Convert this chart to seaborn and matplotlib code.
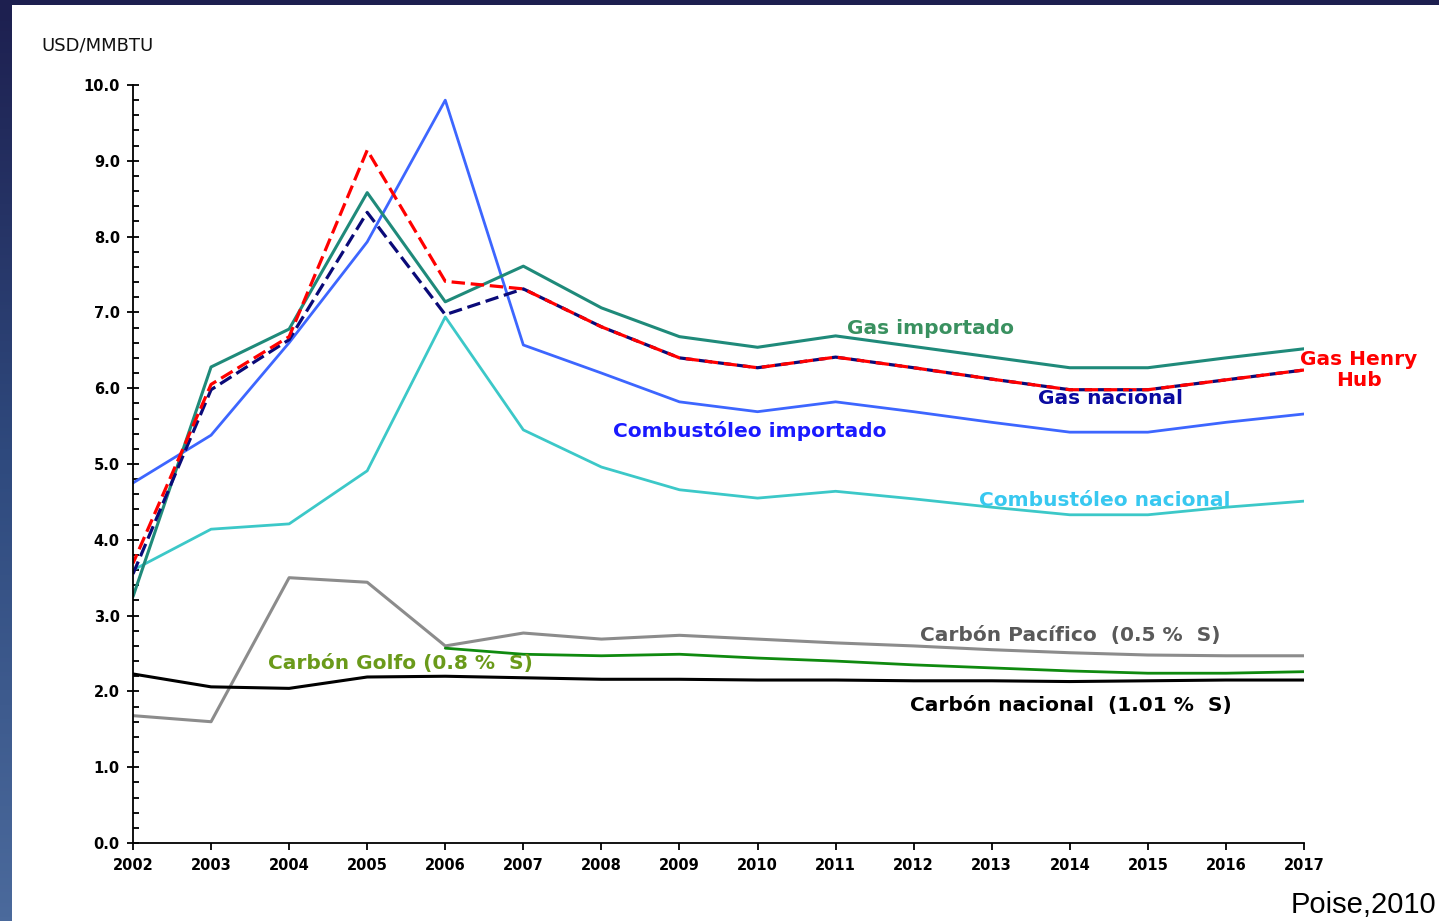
import numpy as np
import pandas as pd
import matplotlib.pyplot as plt
import seaborn as sns
from matplotlib.patches import Rectangle
from matplotlib.ticker import MultipleLocator

# -------------------------------
# Data (USD/MMBTU)
# -------------------------------
years = list(range(2002, 2018))

gas_importado = [3.25, 6.28, 6.78, 8.58, 7.14, 7.61, 7.06, 6.68, 6.54, 6.69,
                 6.55, 6.41, 6.27, 6.27, 6.40, 6.52]
gas_henry_hub = [3.69, 6.05, 6.68, 9.14, 7.41, 7.31, 6.81, 6.40, 6.27, 6.41,
                 6.27, 6.12, 5.98, 5.98, 6.11, 6.24]
gas_nacional = [3.55, 5.98, 6.64, 8.32, 6.97, 7.31, 6.81, 6.40, 6.27, 6.41,
                6.27, 6.12, 5.98, 5.98, 6.11, 6.24]
comb_importado = [4.75, 5.38, 6.60, 7.93, 9.80, 6.57, 6.20, 5.82, 5.69, 5.82,
                  5.69, 5.55, 5.42, 5.42, 5.55, 5.66]
comb_nacional = [3.60, 4.14, 4.21, 4.91, 6.94, 5.45, 4.96, 4.66, 4.55, 4.64,
                 4.54, 4.43, 4.33, 4.33, 4.43, 4.51]
carbon_pacifico = [1.68, 1.60, 3.50, 3.44, 2.60, 2.77, 2.69, 2.74, 2.69, 2.64,
                   2.60, 2.55, 2.51, 2.48, 2.47, 2.47]
carbon_golfo = [np.nan, np.nan, np.nan, np.nan, 2.57, 2.49, 2.47, 2.49, 2.44, 2.40,
                2.35, 2.31, 2.27, 2.24, 2.24, 2.26]
carbon_nacional = [2.23, 2.06, 2.04, 2.19, 2.20, 2.18, 2.16, 2.16, 2.15, 2.15,
                   2.14, 2.14, 2.13, 2.14, 2.15, 2.15]

df = pd.DataFrame({
    "year": years,
    "gas_importado": gas_importado,
    "gas_henry_hub": gas_henry_hub,
    "gas_nacional": gas_nacional,
    "comb_importado": comb_importado,
    "comb_nacional": comb_nacional,
    "carbon_pacifico": carbon_pacifico,
    "carbon_golfo": carbon_golfo,
    "carbon_nacional": carbon_nacional,
})

# -------------------------------
# Figure + slide background
# -------------------------------
sns.set_style("white")
plt.rcParams["font.family"] = ["DejaVu Sans"]

W, H = 1439, 921
fig = plt.figure(figsize=(W / 100, H / 100), dpi=100, facecolor="#1d1f4f")

def fx(px):
    return px / W

def fy(py):
    return 1 - py / H

# white slide area (behind the axes)
fig.patches.append(Rectangle((fx(12), 0), 1 - fx(12), fy(5), transform=fig.transFigure,
                             facecolor="white", edgecolor="none", zorder=-5))
# blue gradient strip on the left
strip = fig.add_axes([0, 0, fx(12), 1])
grad = np.linspace(0, 1, 256).reshape(-1, 1)
strip.imshow(grad, aspect="auto", cmap=sns.blend_palette(["#1d1f4f", "#2f4a7e", "#4b6a9c"], as_cmap=True),
             origin="upper")
strip.axis("off")

ax = fig.add_axes([fx(133), fy(843), fx(1304) - fx(133), fy(85) - fy(843)])
ax.set_facecolor("none")
ax.patch.set_alpha(0)

# -------------------------------
# Lines
# -------------------------------
lw = 2.0
sns.lineplot(data=df, x="year", y="carbon_pacifico", color="#8c8c8c", lw=2.2, ax=ax)
sns.lineplot(data=df, x="year", y="carbon_golfo", color="#0f8a0f", lw=lw, ax=ax)
sns.lineplot(data=df, x="year", y="carbon_nacional", color="black", lw=2.2, ax=ax)
sns.lineplot(data=df, x="year", y="comb_nacional", color="#3cc8c8", lw=lw, ax=ax)
sns.lineplot(data=df, x="year", y="comb_importado", color="#3d66ff", lw=lw, ax=ax)
sns.lineplot(data=df, x="year", y="gas_importado", color="#1f8a7a", lw=2.2, ax=ax)
sns.lineplot(data=df, x="year", y="gas_nacional", color="#0a0a78", lw=2.3, ax=ax,
             linestyle=(0, (4.2, 1.8)))
sns.lineplot(data=df, x="year", y="gas_henry_hub", color="#ff0000", lw=2.3, ax=ax,
             linestyle=(1.2, (4.2, 1.8)))

# -------------------------------
# Axes styling
# -------------------------------
ax.set_xlim(2002, 2017)
ax.set_ylim(0, 10)
ax.set_xticks(years)
ax.set_xticklabels([str(y) for y in years], fontsize=10.5, fontweight="bold", color="black")
ax.yaxis.set_major_locator(MultipleLocator(1))
ax.yaxis.set_minor_locator(MultipleLocator(0.2))
ax.set_yticklabels([f"{v:.1f}" for v in ax.get_yticks()], fontsize=10.5, fontweight="bold",
                   color="black")
ax.tick_params(bottom=True, left=True, which="both")
ax.tick_params(axis="x", which="major", direction="out", length=5, width=1.3, color="black", pad=6)
ax.tick_params(axis="y", which="major", direction="inout", length=9, width=1.3, color="black", pad=5)
ax.tick_params(axis="y", which="minor", direction="in", length=4, width=1.3, color="black")
ax.set_xlabel("")
ax.set_ylabel("")
sns.despine(ax=ax)
for side in ["left", "bottom"]:
    ax.spines[side].set_color("black")
    ax.spines[side].set_linewidth(1.3)

# -------------------------------
# Labels
# -------------------------------
fig.text(fx(41), fy(46), "USD/MMBTU", fontsize=13, color="#111111", va="center", ha="left")

fs = 14.5
fig.text(fx(847), fy(328), "Gas importado", fontsize=fs, fontweight="bold", color="#3a9160",
         va="center", ha="left")
fig.text(fx(1359), fy(370), "Gas Henry\nHub", fontsize=fs, fontweight="bold", color="#ff0000",
         va="center", ha="center", linespacing=1.1)
fig.text(fx(1038), fy(399), "Gas nacional", fontsize=fs, fontweight="bold", color="#0a0aa0",
         va="center", ha="left")
fig.text(fx(613), fy(431), "Combustóleo importado", fontsize=fs, fontweight="bold", color="#1a1aff",
         va="center", ha="left")
fig.text(fx(979), fy(500), "Combustóleo nacional", fontsize=fs, fontweight="bold", color="#38c8f0",
         va="center", ha="left")
fig.text(fx(920), fy(636), "Carbón Pacífico  (0.5 %  S)", fontsize=fs, fontweight="bold",
         color="#5a5a5a", va="center", ha="left")
fig.text(fx(268), fy(663), "Carbón Golfo (0.8 %  S)", fontsize=fs, fontweight="bold",
         color="#6a9a1a", va="center", ha="left")
fig.text(fx(910), fy(705), "Carbón nacional  (1.01 %  S)", fontsize=fs, fontweight="bold",
         color="black", va="center", ha="left")

fig.text(fx(1436), fy(905), "Poise,2010", fontsize=21, color="black", va="center", ha="right",
         family=["Liberation Sans", "DejaVu Sans"])

fig.savefig("out.png", dpi=100, facecolor=fig.get_facecolor())
